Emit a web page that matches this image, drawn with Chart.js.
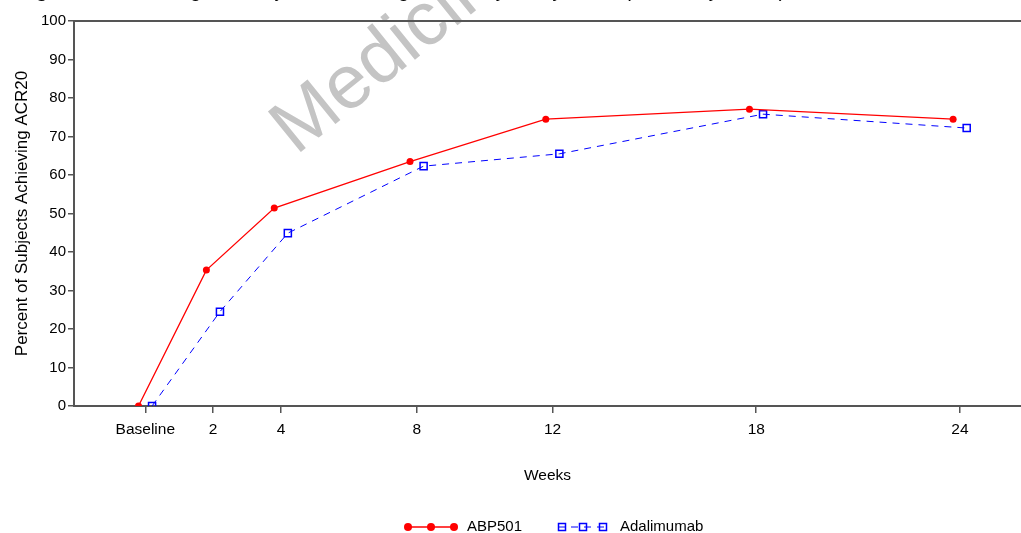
<!DOCTYPE html>
<html>
<head>
<meta charset="utf-8">
<script src="https://cdn.jsdelivr.net/npm/chart.js@4"></script>
<style>
  body { margin: 0; background: #fff; }
  canvas { display: block; }
</style>
</head>
<body>
<canvas id="acrChart" width="1021" height="533"></canvas>
<script>
// data
const weeks = [0, 2, 4, 8, 12, 18, 24];
const weekLabels = ['Baseline', '2', '4', '8', '12', '18', '24'];
const abp501 = [0, 35.3, 51.4, 63.5, 74.5, 77.1, 74.5];
const adalimumab = [0, 24.5, 44.9, 62.3, 65.5, 75.8, 72.2];
const yTicks = [0, 10, 20, 30, 40, 50, 60, 70, 80, 90, 100];

// small horizontal jitter so both groups stay visible
const jitter = 0.2;
const font = "'Liberation Sans', Arial, sans-serif";

function toPoints(values, shift) {
    return weeks.map((w, i) => ({ x: w + shift, y: values[i] }));
}

// title (cut off at top), watermark, top frame line and the legend
const extras = {
    id: 'extras',
    beforeDatasetsDraw(chart) {
        const c = chart.ctx;
        c.save();
        c.translate(296, 156);
        c.rotate(-39 * Math.PI / 180);
        c.fillStyle = '#c4c4c4';
        c.font = '76px ' + font;
        c.textBaseline = 'alphabetic';
        c.fillText('Medicinal product no longer authorised', 0, 0);
        c.restore();
    },
    afterDraw(chart) {
        const c = chart.ctx;
        const area = chart.chartArea;
        c.save();
        // top frame
        c.strokeStyle = '#555';
        c.lineWidth = 2;
        c.beginPath();
        c.moveTo(area.left, area.top);
        c.lineTo(chart.width, area.top);
        c.stroke();

        // title
        c.fillStyle = '#000';
        c.textBaseline = 'alphabetic';
        c.font = 'bold 20px ' + font;
        c.fillText('Figure 2.', 18, -3);
        c.font = '20px ' + font;
        c.fillText('Percentage of Subjects Achieving ACR20 by Study Week (Full Analysis Set)', 110, -3);

        // legend
        const ly = 527;
        const ds = chart.data.datasets;
        c.lineWidth = 1.3;
        c.strokeStyle = ds[0].borderColor;
        c.setLineDash([]);
        c.beginPath();
        c.moveTo(406, ly); c.lineTo(456, ly); c.stroke();
        c.fillStyle = ds[0].pointBackgroundColor;
        [408, 431, 454].forEach(x => {
            c.beginPath(); c.arc(x, ly, 4, 0, Math.PI * 2); c.fill();
        });
        c.strokeStyle = ds[1].borderColor;
        c.lineWidth = 1;
        c.setLineDash([7, 6]);
        c.beginPath();
        c.moveTo(558, ly); c.lineTo(607, ly); c.stroke();
        c.setLineDash([]);
        c.lineWidth = 1.5;
        [562, 583, 603].forEach(x => c.strokeRect(x - 3.5, ly - 3.5, 7, 7));
        c.fillStyle = '#000';
        c.font = '15px ' + font;
        c.textBaseline = 'middle';
        c.fillText(ds[0].label, 467, ly);
        c.fillText(ds[1].label, 620, ly);
        c.restore();
    }
};

new Chart(document.getElementById('acrChart'), {
    type: 'line',
    data: {
        datasets: [{
            label: 'ABP501',
            data: toPoints(abp501, -jitter),
            borderColor: '#ff0000',
            borderWidth: 1.3,
            pointStyle: 'circle',
            pointRadius: 3.5,
            pointBackgroundColor: '#ff0000',
            pointBorderColor: '#ff0000',
            pointBorderWidth: 0,
            tension: 0
        }, {
            label: 'Adalimumab',
            data: toPoints(adalimumab, jitter),
            borderColor: '#0000ff',
            borderWidth: 1,
            borderDash: [7, 6],
            pointStyle: 'rect',
            pointRadius: 5,
            pointBackgroundColor: 'rgba(0,0,0,0)',
            pointBorderColor: '#0000ff',
            pointBorderWidth: 1.5,
            tension: 0
        }]
    },
    options: {
        responsive: false,
        animation: false,
        layout: { autoPadding: false, padding: { top: 21, right: 0, bottom: 0, left: 0 } },
        plugins: {
            legend: { display: false },
            tooltip: { enabled: false }
        },
        scales: {
            x: {
                type: 'linear',
                min: -2.1,
                max: 25.8,
                afterBuildTicks: (scale) => { scale.ticks = weeks.map(v => ({ value: v })); },
                afterFit: (scale) => {
                    scale.height = 127;
                    scale.paddingLeft = 0;
                    scale.paddingRight = 0;
                },
                ticks: {
                    autoSkip: false,
                    maxRotation: 0,
                    padding: 7,
                    color: '#000',
                    font: { family: font, size: 15.5 },
                    callback: (v) => weekLabels[weeks.indexOf(v)]
                },
                grid: { drawOnChartArea: false, drawTicks: true, tickLength: 7, color: '#555', lineWidth: 1.5 },
                border: { display: true, color: '#555', width: 2 },
                title: {
                    display: true,
                    text: 'Weeks',
                    color: '#000',
                    font: { family: font, size: 15.5 },
                    padding: { top: 0, bottom: 48 }
                }
            },
            y: {
                min: 0,
                max: 100,
                afterBuildTicks: (scale) => { scale.ticks = yTicks.map(v => ({ value: v })); },
                afterFit: (scale) => { scale.width = 74; },
                ticks: {
                    padding: 2,
                    color: '#000',
                    font: { family: font, size: 15 }
                },
                grid: { drawOnChartArea: false, drawTicks: true, tickLength: 6, color: '#555', lineWidth: 1.5 },
                border: { display: true, color: '#555', width: 2 },
                title: {
                    display: true,
                    text: 'Percent of Subjects Achieving ACR20',
                    color: '#000',
                    font: { family: font, size: 17 },
                    padding: { top: 12, bottom: 0 }
                }
            }
        }
    },
    plugins: [extras]
});
</script>
</body>
</html>
